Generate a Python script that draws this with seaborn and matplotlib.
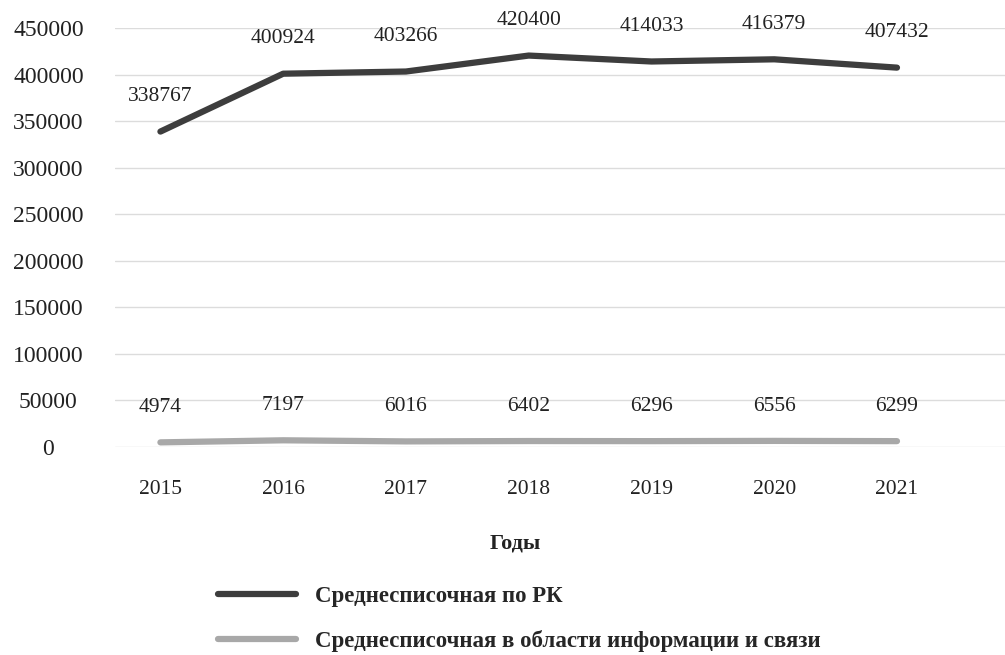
import pandas as pd
import seaborn as sns
import matplotlib.pyplot as plt

# --------------------
# Data
# --------------------
YEARS = [2015, 2016, 2017, 2018, 2019, 2020, 2021]
RK_AVG = [338767, 400924, 403266, 420400, 414033, 416379, 407432]
IT_AVG = [4974, 7197, 6016, 6402, 6296, 6556, 6299]
SERIES_NAMES = ["Среднесписочная по РК", "Среднесписочная в области информации и связи"]
Y_TICKS = list(range(0, 450001, 50000))

COLORS = ["#3d3d3d", "#a8a8a8"]


def main():
    sns.set_style("white")
    plt.rcParams["font.family"] = ["Liberation Serif", "DejaVu Serif"]

    df = pd.DataFrame({
        "year": YEARS * 2,
        "value": RK_AVG + IT_AVG,
        "series": [SERIES_NAMES[0]] * len(YEARS) + [SERIES_NAMES[1]] * len(YEARS),
    })

    fig = plt.figure(figsize=(10.05, 6.55), dpi=100)
    ax = fig.add_axes([115 / 1005, 1 - 447 / 655, 1 - 115 / 1005, 419 / 655])

    sns.lineplot(data=df, x="year", y="value", hue="series", palette=COLORS,
                 linewidth=4.5, ax=ax, legend=True, solid_capstyle="round")

    # data labels
    for vals in (RK_AVG, IT_AVG):
        for x, v in zip(YEARS, vals):
            ax.annotate(str(v), (x, v), xytext=(0, 25), textcoords="offset points",
                        ha="center", va="center", fontsize=15.5, color="#222222",
                        annotation_clip=False)

    ax.set_ylim(0, 450000)
    ax.set_xlim(2014.63, 2021.88)
    ax.set_yticks(Y_TICKS)
    ax.set_yticklabels([str(t) for t in Y_TICKS], fontsize=17, color="#222222", ha="center")
    ax.set_xticks(YEARS)
    ax.set_xticklabels([str(y) for y in YEARS], fontsize=15.5, color="#222222")
    ax.tick_params(axis="y", length=0, pad=48)
    ax.tick_params(axis="x", length=0, pad=24)
    ax.grid(axis="y", color="#dcdcdc", linewidth=1)
    ax.set_axisbelow(True)
    for s in ax.spines.values():
        s.set_visible(False)

    ax.set_ylabel("")
    ax.set_xlabel("Годы", fontsize=16, fontweight="bold", color="#222222")
    ax.xaxis.set_label_coords((515 - 115) / 890, -(544 - 447) / 419)
    ax.xaxis.label.set_va("center")

    handles, labels = ax.get_legend_handles_labels()
    ax.legend(handles, labels, loc="upper left", bbox_to_anchor=(197 / 1005, 1 - 565 / 655),
              bbox_transform=fig.transFigure, frameon=False, handlelength=3.4,
              handletextpad=0.87, labelspacing=1.0,
              prop={"weight": "bold", "size": 16.5})

    fig.savefig("out.png", dpi=100)
    plt.close(fig)


if __name__ == "__main__":
    main()
